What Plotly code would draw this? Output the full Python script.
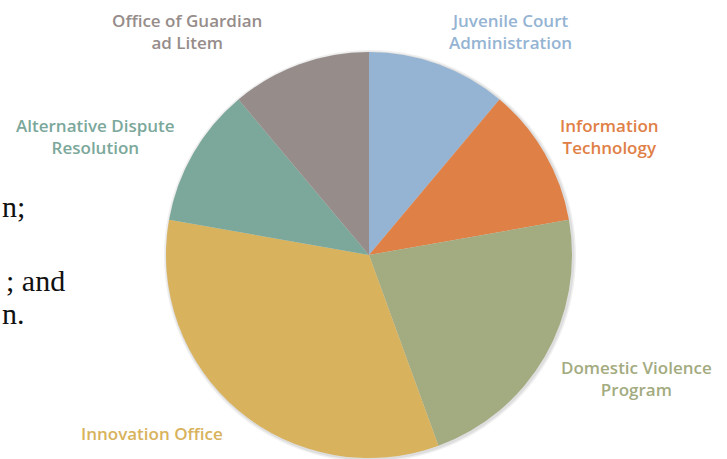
import plotly.graph_objects as go

# slice data, clockwise from 12 o'clock
units = ["Juvenile Court Administration", "Information Technology",
         "Domestic Violence Program", "Innovation Office",
         "Alternative Dispute Resolution", "Office of Guardian ad Litem"]
shares = [1, 1, 2, 3, 1, 1]
colors = ["#95B4D3", "#DF8046", "#A3AB80", "#D8B25C", "#7BA89B", "#968C8A"]

# outside labels as printed (line-broken)
label_text = ["Juvenile Court<br>Administration", "Information<br>Technology",
              "Domestic Violence<br>Program", "Innovation Office",
              "Alternative Dispute<br>Resolution", "Office of Guardian<br>ad Litem"]
label_xy = [(510, 31), (609, 136), (636, 378), (152, 433), (96, 136), (187, 31)]

# fragments of the surrounding document text cut by the left edge
side_text = ["n;", "; and", "n."]
side_xy = [(0, 206), (4, 280), (0, 313)]

W, H = 727, 459
# pie bounding box in pixels (left, top, right, bottom)
pie_box = (166, 52, 572, 458)

fig = go.Figure()
fig.add_trace(go.Pie(
    labels=units,
    values=shares,
    sort=False,
    direction="clockwise",
    rotation=0,
    marker=dict(colors=colors, line=dict(width=0)),
    textinfo="none",
    hoverinfo="label+percent",
    showlegend=False,
    domain=dict(x=[pie_box[0] / W, pie_box[2] / W],
                y=[1 - pie_box[3] / H, 1 - pie_box[1] / H]),
))

# soft drop shadow around the pie
for grow, shade in [(3, "#f0f0f0"), (1.5, "#dedede")]:
    fig.add_shape(
        type="circle", xref="paper", yref="paper", layer="below",
        x0=(pie_box[0] - grow + 1) / W, x1=(pie_box[2] + grow + 1) / W,
        y0=1 - (pie_box[3] + grow + 1) / H, y1=1 - (pie_box[1] - grow + 1) / H,
        line=dict(width=0), fillcolor=shade,
    )

for txt, (x, y), c in zip(label_text, label_xy, colors):
    fig.add_annotation(
        x=x / W, y=1 - y / H, xref="paper", yref="paper",
        xanchor="center", yanchor="middle",
        text=txt, showarrow=False, align="center",
        font=dict(family="Open Sans", size=17, color=c, weight=600),
    )

for txt, (x, y) in zip(side_text, side_xy):
    fig.add_annotation(
        x=x / W, y=1 - y / H, xref="paper", yref="paper",
        xanchor="left", yanchor="middle",
        text=txt, showarrow=False,
        font=dict(family="Liberation Serif", size=30, color="#111111"),
    )

fig.update_layout(
    width=W, height=H,
    margin=dict(l=0, r=0, t=0, b=0),
    paper_bgcolor="white",
    plot_bgcolor="white",
)

fig.write_html("out.html", config={"displayModeBar": False},
               post_script="document.body.style.margin='0';")
